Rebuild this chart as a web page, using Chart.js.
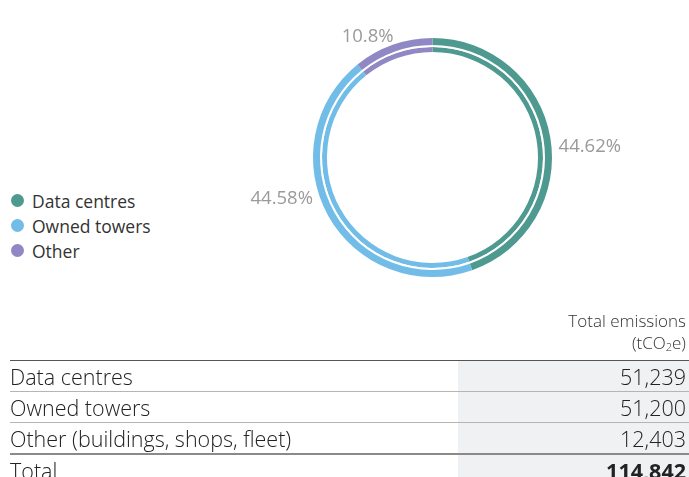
<!DOCTYPE html>
<html>
<head>
<meta charset="utf-8">
<script src="https://cdn.jsdelivr.net/npm/chart.js@4"></script>
<style>
  html, body { margin: 0; padding: 0; }
  body { width: 689px; height: 477px; overflow: hidden; background: #fff; position: relative; font-family: "Open Sans", Lato, sans-serif; }
  #chart-wrap { position: absolute; left: 176px; top: 0; width: 513px; height: 315px; }
  #legend { position: absolute; left: 10px; top: 188px; }
  .leg-item { height: 25px; display: flex; align-items: center; font-size: 17.5px; color: #333; }
  .leg-dot { width: 13px; height: 13px; border-radius: 50%; margin-right: 8px; margin-left: 1px; }
  #tbl { position: absolute; left: 10px; top: 310px; width: 679px; border-collapse: collapse; }
  #tbl th { font-weight: 300; font-size: 17px; color: #333; text-align: right; padding: 0 3px 2px 0; line-height: 22px; }
  #tbl td { font-weight: 300; font-size: 21.5px; color: #222; height: 30px; padding: 0; border-top: 1px solid #b5b5b5; }
  #tbl td.num { text-align: right; padding-right: 3px; background: #f0f1f3; width: 228px; }
  #tbl tr.first td { border-top: 1px solid #555; }
  #tbl tr.total td { border-top: 2px solid #8a8a8a; }
  #tbl tr.total td.num { font-weight: 700; }
</style>
</head>
<body>
<div id="chart-wrap"><canvas id="donut"></canvas></div>
<div id="legend"></div>
<table id="tbl"></table>

<script>
// chart data
var categories = ['Data centres', 'Owned towers', 'Other'];
var rowLabels = ['Data centres', 'Owned towers', 'Other (buildings, shops, fleet)'];
var emissions = [51239, 51200, 12403];
var percentLabels = ['44.62%', '44.58%', '10.8%'];
var totalLabel = '114,842';
var colors = ['#4e9a90', '#72bde8', '#8f88c4'];

// legend
var legend = document.getElementById('legend');
for (var i = 0; i < categories.length; i++) {
  var item = document.createElement('div');
  item.className = 'leg-item';
  item.innerHTML = '<span class="leg-dot" style="background:' + colors[i] + '"></span>' + categories[i];
  legend.appendChild(item);
}

// table
var tbl = document.getElementById('tbl');
var html = '<tr><th></th><th>Total emissions<br>(tCO<sub style="font-size:11px;vertical-align:-2px">2</sub>e)</th></tr>';
for (var j = 0; j < rowLabels.length; j++) {
  html += '<tr' + (j === 0 ? ' class="first"' : '') + '><td>' + rowLabels[j] + '</td><td class="num">' + emissions[j].toLocaleString('en-US') + '</td></tr>';
}
html += '<tr class="total"><td>Total</td><td class="num">' + totalLabel + '</td></tr>';
tbl.innerHTML = html;

// percentage labels around the ring
var pctLabels = {
  id: 'pctLabels',
  afterDraw: function (chart, args, opts) {
    var meta = chart.getDatasetMeta(0);
    var ctx = chart.ctx;
    ctx.save();
    ctx.font = '18.5px "Open Sans", sans-serif';
    ctx.fillStyle = '#9a9a9a';
    ctx.textBaseline = 'middle';
    meta.data.forEach(function (arc, k) {
      var a = (arc.startAngle + arc.endAngle) / 2 + opts.nudge[k] * Math.PI / 180;
      var r = arc.outerRadius + opts.gap;
      var x = arc.x + Math.cos(a) * r;
      var y = arc.y + Math.sin(a) * r;
      ctx.textAlign = Math.cos(a) >= 0 ? 'left' : 'right';
      ctx.fillText(percentLabels[k], x, y);
    });
    ctx.restore();
  }
};

var ctx = document.getElementById('donut').getContext('2d');
var chart = new Chart(ctx, {
  type: 'doughnut',
  data: {
    labels: categories,
    datasets: [
      { data: emissions, backgroundColor: colors, borderWidth: 0, weight: 7 },
      { data: emissions, backgroundColor: '#ffffff', borderWidth: 0, weight: 2 },
      { data: emissions, backgroundColor: colors, borderWidth: 0, weight: 5 }
    ]
  },
  plugins: [pctLabels],
  options: {
    responsive: true,
    maintainAspectRatio: false,
    animation: false,
    cutout: '88.3%',
    layout: { padding: { top: 38, bottom: 38 } },
    plugins: {
      legend: { display: false },
      tooltip: { enabled: false },
      pctLabels: { gap: 7, nudge: [5, 10, 1.5] }
    }
  }
});
</script>
</body>
</html>
